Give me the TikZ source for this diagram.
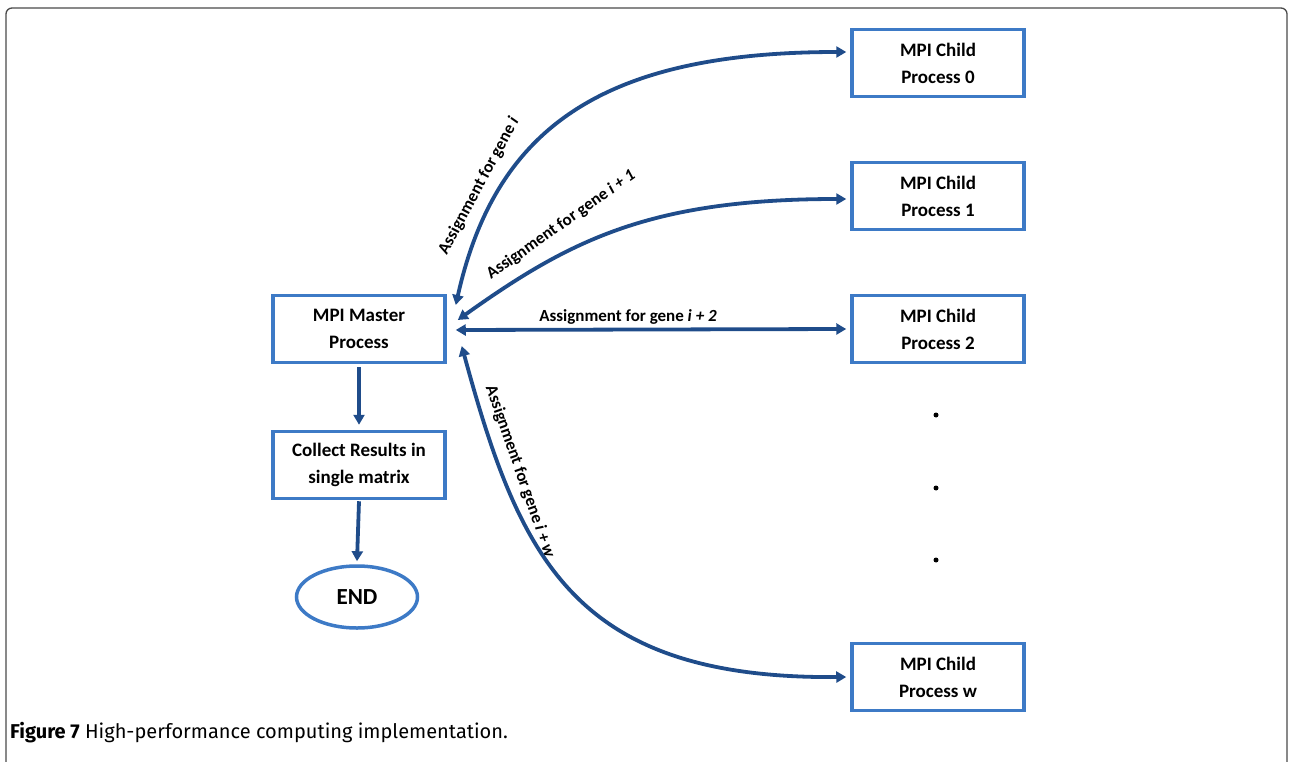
\documentclass[tikz,border=0pt]{standalone}
\usepackage{fontspec}
\setmainfont{Carlito}
\newfontfamily\capfont{Fira Sans}
\usetikzlibrary{arrows.meta,shapes.geometric}
\definecolor{boxblue}{HTML}{3D7AC6}
\definecolor{arrblue}{HTML}{1F4C8A}
\definecolor{framegray}{HTML}{4A4A4A}
\begin{document}
\begin{tikzpicture}[x=1pt,y=-1pt,
  procbox/.style={draw=boxblue,line width=3.5pt,minimum width=172pt,minimum height=67pt,align=center,font=\fontsize{19}{27}\selectfont\bfseries,inner sep=0pt},
  endell/.style={draw=boxblue,line width=3.5pt,ellipse,minimum width=121pt,minimum height=62pt,inner sep=0pt,font=\fontsize{23}{27}\selectfont\bfseries},
  conn/.style={draw=arrblue,line width=3.8pt,-{Triangle[length=10pt,width=11pt]}},
  dconn/.style={draw=arrblue,line width=3.8pt,{Triangle[length=10pt,width=11pt]}-{Triangle[length=10pt,width=11pt]}},
  lbl/.style={font=\fontsize{17}{20}\selectfont\bfseries,inner sep=0pt},
  dotnode/.style={circle,fill=black,minimum size=5pt,inner sep=0pt}]
\useasboundingbox (0,0) rectangle (1289,762);
\draw[framegray,line width=1.3pt,rounded corners=6pt] (6,800) -- (6,8) -- (1287,8) -- (1287,800);
\node[procbox] (master) at (359,329) {MPI Master\\Process};
\node[procbox] (collect) at (359,465) {Collect Results in\\single matrix};
\node[endell] (end) at (357,597) {END};
\node[procbox] (c0) at (938,63) {MPI Child\\Process 0};
\node[procbox] (c1) at (938,196) {MPI Child\\Process 1};
\node[procbox] (c2) at (938,329) {MPI Child\\Process 2};
\node[procbox] (cw) at (938,677) {MPI Child\\Process w};
\node[dotnode] (d1) at (936,415) {};
\node[dotnode] (d2) at (936,488) {};
\node[dotnode] (d3) at (936,560) {};
\draw[conn] ([yshift=-3pt]master.south) -- ([yshift=5pt]collect.north);
\draw[conn] ([yshift=-1pt]collect.south) -- ([yshift=3pt]end.north);
\draw[dconn] ([xshift=9pt,yshift=24pt]master.east) .. controls (495,130) and (600,52) .. ([xshift=-4pt,yshift=11pt]c0.west);
\draw[dconn] ([xshift=11pt,yshift=9pt]master.east) .. controls (570,240) and (650,199) .. ([xshift=-4pt,yshift=-3pt]c1.west);
\draw[dconn] ([xshift=9pt,yshift=-1pt]master.east) -- ([xshift=-4pt]c2.west);
\draw[dconn] ([xshift=15pt,yshift=-17pt]master.east) .. controls (520,560) and (575,679) .. ([xshift=-4pt,yshift=0pt]cw.west);
\node[lbl,rotate=61.7] (l0) at (479,186) {Assignment for gene \textit{i}};
\node[lbl,rotate=35.2] (l1) at (561,225) {Assignment for gene \textit{i + 1}};
\node[lbl] (l2) at (628,317) {Assignment for gene \textit{i + 2}};
\node[lbl,rotate=-70.7] (lw) at (520,472) {Assignment for gene \textit{i + w}};
\node[anchor=base west,inner sep=0pt,font=\capfont\fontsize{20}{24}\selectfont] (cap) at (10,738) {\textbf{Figure 7} High-performance computing implementation.};
\end{tikzpicture}
\end{document}
